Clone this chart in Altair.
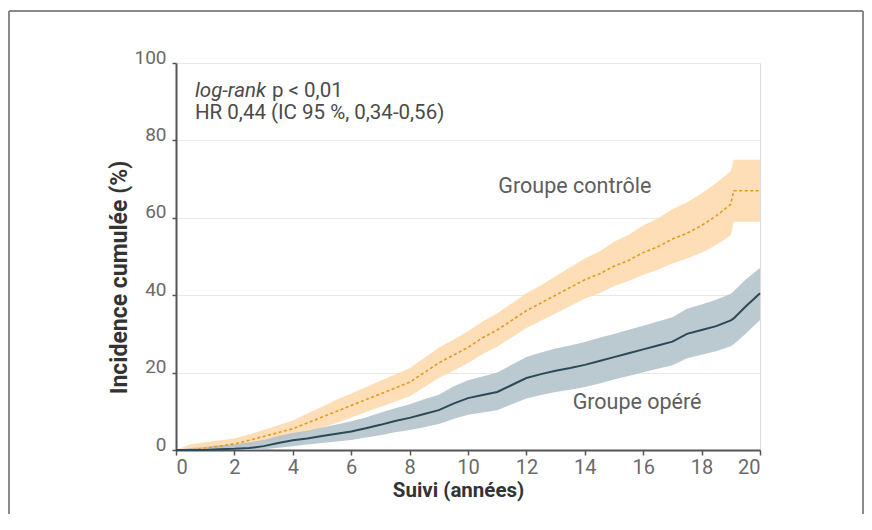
import altair as alt
import pandas as pd

# follow-up time (years)
t = [0, 0.5, 1, 1.5, 2, 2.5, 3, 3.5, 4, 4.5, 5, 5.5, 6, 6.5, 7, 7.5, 8, 8.5, 9, 9.5,
     10, 10.5, 11, 11.5, 12, 12.5, 13, 13.5, 14, 14.5, 15, 15.5, 16, 16.5, 17, 17.5,
     18, 18.5, 19, 19.1, 19.5, 20]

# control group
ctrl = [0, 0, 0.5, 1.0, 1.6, 2.5, 3.5, 4.5, 5.5, 7.0, 8.5, 10.0, 11.5, 13.0, 14.5, 16.0,
        17.5, 20.0, 22.5, 24.5, 26.5, 29.0, 31.0, 33.5, 36.0, 38.0, 40.0, 42.0, 44.0,
        45.5, 47.5, 49.0, 51.0, 52.5, 54.5, 56.0, 58.0, 60.5, 63.5, 67.0, 67.0, 67.0]
ctrl_lo = [0, 0, 0, 0.2, 0.6, 1.2, 1.8, 2.6, 3.4, 4.6, 5.8, 7.0, 8.4, 9.8, 11.1, 12.5,
           13.9, 16.2, 18.6, 20.5, 22.5, 24.8, 26.7, 29.1, 31.5, 33.4, 35.3, 37.2, 39.1,
           40.5, 42.3, 43.7, 45.3, 46.6, 48.2, 49.5, 51.0, 53.0, 55.5, 59.0, 59.0, 59.0]
ctrl_hi = [0, 1.5, 2.0, 2.5, 3.0, 4.0, 5.2, 6.4, 7.6, 9.4, 11.2, 13.0, 14.6, 16.2, 17.9,
           19.5, 21.1, 23.8, 26.4, 28.5, 30.7, 33.2, 35.3, 37.9, 40.5, 42.6, 44.9, 47.2,
           49.5, 51.3, 53.8, 55.6, 58.0, 59.8, 62.2, 64.0, 66.3, 69.0, 72.0, 75.0, 75.0, 75.0]

# operated group
oper = [0, 0, 0, 0.2, 0.3, 0.5, 1.0, 1.8, 2.5, 3.0, 3.6, 4.2, 4.8, 5.6, 6.5, 7.5, 8.3,
        9.3, 10.3, 12.0, 13.4, 14.2, 15.0, 16.8, 18.6, 19.6, 20.5, 21.2, 22.0, 23.0,
        24.0, 25.0, 26.0, 27.0, 28.0, 30.0, 31.0, 32.0, 33.5, 34.0, 37.0, 40.5]
oper_lo = [0, 0, 0, 0, 0, 0, 0.2, 0.6, 1.0, 1.4, 1.8, 2.2, 2.6, 3.2, 3.8, 4.6, 5.2, 5.9,
           6.7, 8.0, 9.1, 9.7, 10.3, 11.8, 13.3, 14.2, 15.0, 15.6, 16.3, 17.2, 18.2,
           19.1, 20.1, 21.0, 21.9, 23.7, 24.6, 25.5, 26.8, 27.3, 30.0, 33.6]
oper_hi = [0, 0.5, 0.8, 1.2, 1.5, 2.0, 2.6, 3.6, 4.4, 5.0, 5.8, 6.6, 7.4, 8.4, 9.6, 10.8,
           11.8, 13.1, 14.3, 16.4, 18.0, 19.0, 20.0, 22.0, 24.0, 25.2, 26.2, 27.0, 27.9,
           29.0, 30.0, 31.1, 32.1, 33.2, 34.3, 36.5, 37.6, 38.8, 40.4, 41.0, 44.0, 47.0]

x_ticks = [0, 2, 4, 6, 8, 10, 12, 14, 16, 18, 20]
y_ticks = [0, 20, 40, 60, 80, 100]

FONT = "Roboto"

dc = pd.DataFrame({"t": t, "y": ctrl, "lo": ctrl_lo, "hi": ctrl_hi})
do = pd.DataFrame({"t": t, "y": oper, "lo": oper_lo, "hi": oper_hi})

xs = alt.Scale(domain=[0, 20], nice=False, zero=False)
ys = alt.Scale(domain=[0, 100], nice=False)

xax = alt.Axis(values=x_ticks, grid=False, title="Suivi (années)", domainColor="#555555",
               domainWidth=2, tickColor="#555555", tickWidth=1.5, tickSize=5,
               labelFont=FONT, labelFontSize=20, labelColor="#6a6a6a", labelPadding=2,
               titleFont=FONT, titleFontSize=20.5, titleFontWeight="bold", titleColor="#333333",
               titleX=282, titleY=40, titleBaseline="middle", titleAnchor="middle")
yax = alt.Axis(values=y_ticks, grid=True, gridColor="#e8e8e8", gridWidth=1.2,
               title="Incidence cumulée (%)", domainColor="#555555", domainWidth=2,
               tickColor="#555555", tickWidth=1.5, tickSize=4,
               labelFont=FONT, labelFontSize=19, labelColor="#6a6a6a", labelPadding=6,
               labelBaseline="alphabetic",
               titleFont=FONT, titleFontSize=23, titleFontWeight="bold", titleColor="#333333",
               titleX=-57, titleY=214, titleBaseline="middle", titleAnchor="middle")

base_c = alt.Chart(dc)
base_o = alt.Chart(do)

band_c = base_c.mark_area(interpolate="linear", color="#fddcb2", opacity=0.95).encode(
    x=alt.X("t:Q", scale=xs, axis=xax), y=alt.Y("lo:Q", scale=ys, axis=yax), y2="hi:Q")
band_o = base_o.mark_area(interpolate="linear", color="#b2c2ca", opacity=0.88).encode(
    x=alt.X("t:Q", scale=xs), y=alt.Y("lo:Q", scale=ys), y2="hi:Q")
line_c = base_c.mark_line(interpolate="linear", color="#e49a1e", strokeWidth=1.6,
                          strokeDash=[3, 2.5]).encode(x=alt.X("t:Q", scale=xs), y=alt.Y("y:Q", scale=ys))
line_o = base_o.mark_line(interpolate="linear", color="#2b4a57", strokeWidth=2).encode(
    x=alt.X("t:Q", scale=xs), y=alt.Y("y:Q", scale=ys))

# annotations
ann = pd.DataFrame({
    "x": [0.65, 0.65],
    "y": [92.8, 87.1],
    "txt": ["log-rank", "HR 0,44 (IC 95 %, 0,34-0,56)"],
})
ann_it = alt.Chart(ann.iloc[[0]]).mark_text(align="left", baseline="middle", font=FONT,
                                            fontSize=20.5, fontStyle="italic", color="#4a4a4a").encode(
    x=alt.X("x:Q", scale=xs), y=alt.Y("y:Q", scale=ys), text="txt:N")
ann2 = pd.DataFrame({"x": [0.65], "y": [92.8], "txt": ["p < 0,01"]})
ann_p = alt.Chart(ann2).mark_text(align="left", baseline="middle", font=FONT, fontSize=20.5,
                                  color="#4a4a4a", dx=77).encode(
    x=alt.X("x:Q", scale=xs), y=alt.Y("y:Q", scale=ys), text="txt:N")
ann_hr = alt.Chart(ann.iloc[[1]]).mark_text(align="left", baseline="middle", font=FONT,
                                            fontSize=20.5, color="#4a4a4a").encode(
    x=alt.X("x:Q", scale=xs), y=alt.Y("y:Q", scale=ys), text="txt:N")

grp = pd.DataFrame({"x": [13.66, 15.79], "y": [68.0, 12.1],
                    "txt": ["Groupe contrôle", "Groupe opéré"]})
grp_txt = alt.Chart(grp).mark_text(align="center", baseline="middle", font=FONT, fontSize=21.5,
                                   color="#5e5e5e").encode(
    x=alt.X("x:Q", scale=xs), y=alt.Y("y:Q", scale=ys), text="txt:N")

# outer frame (decoration)
frame_l = alt.Chart(dc.iloc[[0]]).mark_rule(color="#8a8a8a", strokeWidth=2).encode(
    x=alt.value(-167), y=alt.value(-52), y2=alt.value(460))
frame_r = alt.Chart(dc.iloc[[0]]).mark_rule(color="#8a8a8a", strokeWidth=2).encode(
    x=alt.value(687), y=alt.value(-52), y2=alt.value(460))
frame_t = alt.Chart(dc.iloc[[0]]).mark_rule(color="#8a8a8a", strokeWidth=2).encode(
    x=alt.value(-167), x2=alt.value(687), y=alt.value(-52))

chart = alt.layer(band_c, band_o, line_c, line_o, ann_it, ann_p, ann_hr, grp_txt,
                  frame_l, frame_r, frame_t).properties(
    width=584, height=387,
    autosize=alt.AutoSizeParams(type="none"),
    padding={"left": 168, "top": 55, "right": 104, "bottom": 64},
).configure_view(stroke=None).configure(background="white")

chart.save("out.html", embed_options={"renderer": "svg", "actions": False})
